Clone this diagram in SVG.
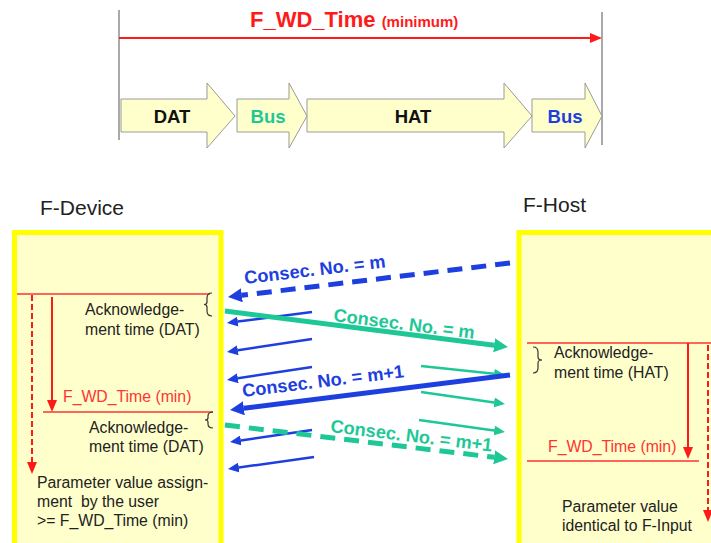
<svg xmlns="http://www.w3.org/2000/svg" width="711" height="543" viewBox="0 0 711 543">
<style>
  text { font-family: "Liberation Sans", Arial, sans-serif; }
  .blk { fill: #FFFFCC; stroke: #9a9a9a; stroke-width: 1; }
  .blkt { font-size: 18.5px; font-weight: bold; text-anchor: middle; }
  .box { fill: #FFFFCC; stroke: #FFFF00; stroke-width: 5; }
  .ttl { font-size: 21px; fill: #222; }
  .note { font-size: 15.8px; fill: #222; }
  .rnote { font-size: 15.8px; fill: #FF3333; }
  .rline { stroke: #FF3333; stroke-width: 1.5; fill: none; }
  .rarr { stroke: #FF1a1a; stroke-width: 2; fill: none; }
  .rdash { stroke: #FF1a1a; stroke-width: 2; fill: none; stroke-dasharray: 6 3; }
  .brace { stroke: #333; stroke-width: 1.2; fill: none; }
  .blue { stroke: #1E3FE0; fill: none; }
  .green { stroke: #1EC896; fill: none; }
  .thick { stroke-width: 5; }
  .thin { stroke-width: 2.5; }
  .dash { stroke-dasharray: 15 9; }
  .cb { font-size: 18.2px; font-weight: bold; fill: #1E3FE0; }
  .cg { font-size: 18.2px; font-weight: bold; fill: #1EC896; }
</style>
<defs>
  <marker id="hbT" markerUnits="userSpaceOnUse" viewBox="0 0 14 14" refX="0" refY="7" markerWidth="14" markerHeight="14" orient="auto">
    <path d="M0,0 L14,7 L0,14 z" fill="#1E3FE0"/>
  </marker>
  <marker id="hgT" markerUnits="userSpaceOnUse" viewBox="0 0 14 14" refX="0" refY="7" markerWidth="14" markerHeight="14" orient="auto">
    <path d="M0,0 L14,7 L0,14 z" fill="#1EC896"/>
  </marker>
  <marker id="hb" markerUnits="userSpaceOnUse" viewBox="0 0 11 10" refX="0" refY="5" markerWidth="11" markerHeight="10" orient="auto">
    <path d="M0,0 L11,5 L0,10 z" fill="#1E3FE0"/>
  </marker>
  <marker id="hg" markerUnits="userSpaceOnUse" viewBox="0 0 11 10" refX="0" refY="5" markerWidth="11" markerHeight="10" orient="auto">
    <path d="M0,0 L11,5 L0,10 z" fill="#1EC896"/>
  </marker>
  <marker id="hr" markerUnits="userSpaceOnUse" viewBox="0 0 12 10" refX="0" refY="5" markerWidth="12" markerHeight="10" orient="auto">
    <path d="M0,0 L12,5 L0,10 z" fill="#FF1a1a"/>
  </marker>
</defs>

<!-- header: F_WD_Time span -->
<g id="wd-time-span">
  <line x1="119" y1="10" x2="119" y2="140" stroke="#555" stroke-width="1"/>
  <line x1="602" y1="12" x2="602" y2="145" stroke="#555" stroke-width="1"/>
  <line x1="119" y1="38" x2="590" y2="38" stroke="#FF1a1a" stroke-width="2" marker-end="url(#hr)"/>
  <text x="250" y="27" fill="#FF1a1a" font-weight="bold" font-size="22">F_WD_Time <tspan font-size="15">(minimum)</tspan></text>
</g>

<g id="blk-dat">
  <polygon class="blk" points="121,99 207,99 207,83 235,116 207,148 207,132 121,132"/>
  <text class="blkt" x="172" y="123" fill="#111">DAT</text>
</g>
<g id="blk-bus1">
  <polygon class="blk" points="237,99 289,99 289,83 307,116 289,148 289,132 237,132"/>
  <text class="blkt" x="268" y="123" fill="#1EC896">Bus</text>
</g>
<g id="blk-hat">
  <polygon class="blk" points="307,99 504,99 504,83 532,116 504,148 504,132 307,132"/>
  <text class="blkt" x="413" y="123" fill="#111">HAT</text>
</g>
<g id="blk-bus2">
  <polygon class="blk" points="532,99 585,99 585,83 602,116 585,148 585,132 532,132"/>
  <text class="blkt" x="565" y="123" fill="#1E3FE0">Bus</text>
</g>

<!-- F-Device -->
<g id="f-device">
  <text class="ttl" x="40" y="215">F-Device</text>
  <rect class="box" x="14.5" y="232.5" width="206.5" height="330"/>
  <line class="rline" x1="17" y1="294" x2="210" y2="294"/>
  <path class="brace" d="M212,293 Q207,293 207,298 L207,302 Q207,304.5 204,304.5 Q207,304.5 207,307 L207,311 Q207,316 212,316"/>
  <text class="note" x="85" y="315">Acknowledge-</text>
  <text class="note" x="85" y="335">ment time (DAT)</text>
  <line class="rarr" x1="52" y1="297" x2="52" y2="400" marker-end="url(#hr)"/>
  <line class="rdash" x1="32" y1="295" x2="32" y2="462" marker-end="url(#hr)"/>
  <text class="rnote" x="63" y="402">F_WD_Time (min)</text>
  <line class="rline" x1="43" y1="412" x2="213" y2="412"/>
  <path class="brace" d="M213,412 Q208,412 208,416 L208,418 Q208,420 205,420 Q208,420 208,422 L208,424 Q208,428 213,428"/>
  <text class="note" x="89" y="433">Acknowledge-</text>
  <text class="note" x="89" y="452">ment time (DAT)</text>
  <text class="note" x="37" y="488">Parameter value assign-</text>
  <text class="note" x="37" y="507" xml:space="preserve">ment  by the user</text>
  <text class="note" x="37" y="526">&gt;= F_WD_Time (min)</text>
</g>

<!-- F-Host -->
<g id="f-host">
  <text class="ttl" x="523" y="212">F-Host</text>
  <rect class="box" x="519" y="232.5" width="300" height="330"/>
  <line class="rline" x1="527" y1="343" x2="711" y2="343"/>
  <path class="brace" d="M533,347 Q538,347 538,352 L538,357 Q538,360 542,360 Q538,360 538,363 L538,368 Q538,373 533,373"/>
  <text class="note" x="554" y="358">Acknowledge-</text>
  <text class="note" x="554" y="378">ment time (HAT)</text>
  <line class="rarr" x1="688" y1="343" x2="688" y2="447" marker-end="url(#hr)"/>
  <line class="rdash" x1="708" y1="345" x2="708" y2="510" marker-end="url(#hr)"/>
  <text class="rnote" x="548" y="452">F_WD_Time (min)</text>
  <line class="rline" x1="527" y1="461" x2="699" y2="461"/>
  <text class="note" x="562" y="512">Parameter value</text>
  <text class="note" x="562" y="531">identical to F-Input</text>
</g>

<!-- connectors -->
<g id="connectors">
  <line class="green thin" x1="421" y1="366" x2="494.1" y2="373.8" marker-end="url(#hg)"/>
  <line class="green thin" x1="421" y1="392" x2="494.1" y2="402.4" marker-end="url(#hg)"/>
  <line class="green thin" x1="419" y1="420" x2="494.1" y2="430.5" marker-end="url(#hg)"/>
  <line class="blue thin" x1="312" y1="312" x2="237.9" y2="321.6" marker-end="url(#hb)"/>
  <line class="blue thin" x1="312" y1="339" x2="237.9" y2="350.3" marker-end="url(#hb)"/>
  <line class="blue thin" x1="312" y1="367" x2="237.9" y2="378.3" marker-end="url(#hb)"/>
  <line class="blue thin" x1="312" y1="430" x2="240.9" y2="440.4" marker-end="url(#hb)"/>
  <line class="blue thin" x1="314" y1="457" x2="238.9" y2="467.5" marker-end="url(#hb)"/>

  <line class="blue thick dash" x1="510" y1="263" x2="241.9" y2="295.3" marker-end="url(#hbT)"/>
  <line class="green thick" x1="225" y1="311" x2="494.1" y2="345.2" marker-end="url(#hgT)"/>
  <line class="blue thick" x1="510" y1="375" x2="243.9" y2="408.3" marker-end="url(#hbT)"/>
  <line class="green thick dash" x1="225" y1="425" x2="494.1" y2="457.3" marker-end="url(#hgT)"/>

  <text class="cb" x="245" y="284" transform="rotate(-6.7 245 284)">Consec. No. = m</text>
  <text class="cg" x="333" y="321" transform="rotate(7.2 333 321)">Consec. No. = m</text>
  <text class="cb" x="243" y="397" transform="rotate(-7 243 397)">Consec. No. = m+1</text>
  <text class="cg" x="330" y="432" transform="rotate(6.9 330 432)">Consec. No. = m+1</text>
</g>
</svg>
